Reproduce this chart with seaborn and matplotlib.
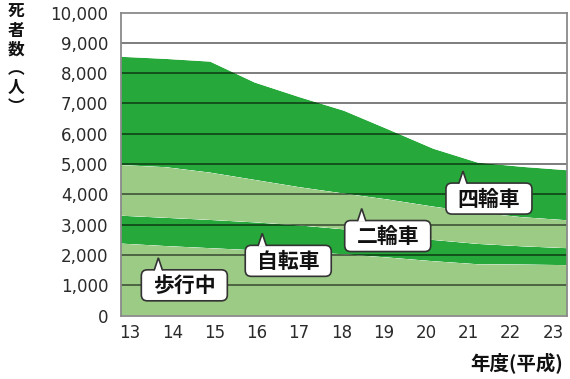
import matplotlib
matplotlib.use("Agg")
import matplotlib.pyplot as plt
import pandas as pd
import seaborn as sns
import seaborn.objects as so
from matplotlib.patches import FancyBboxPatch, Polygon
from matplotlib.lines import Line2D
from matplotlib.transforms import ScaledTranslation
from matplotlib.ticker import FuncFormatter

# Road traffic deaths by mode of travel, fiscal years Heisei 13-23
years = [13, 14, 15, 16, 17, 18, 19, 20, 21, 22, 23]
pedestrian = [2380, 2300, 2230, 2160, 2100, 2030, 1920, 1800, 1700, 1690, 1670]
bicycle = [920, 930, 930, 920, 880, 820, 760, 700, 670, 600, 560]
motorcycle = [1670, 1670, 1560, 1400, 1260, 1180, 1150, 1100, 1030, 960, 920]
car = [3570, 3570, 3660, 3210, 2970, 2730, 2310, 1910, 1650, 1660, 1650]

modes = ["歩行中", "自転車", "二輪車", "四輪車"]
series = [pedestrian, bicycle, motorcycle, car]
y_ticks = [0, 1000, 2000, 3000, 4000, 5000, 6000, 7000, 8000, 9000, 10000]
year_labels = [str(y) for y in years]

DARK = "#27a83b"
LIGHT = "#9ccb86"
palette = {"歩行中": LIGHT, "自転車": DARK, "二輪車": LIGHT, "四輪車": DARK}

# long table, bottom layer first so that the stack builds upward
df = pd.concat(
    [pd.DataFrame({"year": years, "deaths": vals, "mode": m}) for m, vals in zip(modes, series)],
    ignore_index=True,
)

sns.set_theme(style="white")
plt.rcParams["font.family"] = ["DejaVu Sans"]
CJK = ["Noto Sans CJK JP", "DejaVu Sans"]

W, H = 570, 379
fig = plt.figure(figsize=(W / 100, H / 100), dpi=100)
ax = fig.add_axes([121 / W, 1 - 315.8 / H, 446 / W, (315.8 - 12.5) / H])

(
    so.Plot(df, x="year", y="deaths", color="mode")
    .add(so.Area(alpha=1, edgewidth=0), so.Stack(), legend=False)
    .scale(color=so.Nominal(palette, order=modes))
    .on(ax)
    .plot()
)

ax.set_facecolor("white")
ax.set_xlim(13, 23)
ax.set_ylim(0, 10000)
# year labels sit on a slightly inset row so the end labels stay inside the frame
inset = [13.2 + (y - 13) * 0.9484 for y in years]
ax.set_xticks(inset, year_labels)
ax.set_yticks(y_ticks)
ax.yaxis.set_major_formatter(FuncFormatter(lambda v, _: f"{v:,.0f}"))
ax.set_xlabel("")
ax.set_ylabel("")
ax.grid(False)
ax.tick_params(axis="both", length=0, labelsize=12, labelcolor="#2a2a2a")
ax.tick_params(axis="y", pad=9)
ax.tick_params(axis="x", pad=6)

# horizontal rules drawn over the filled bands
for v in y_ticks[1:-1]:
    ax.axhline(v, color="black", alpha=0.55, lw=1.3, zorder=3)

for side in ["left", "right", "top", "bottom"]:
    ax.spines[side].set_visible(True)
    ax.spines[side].set_color("#8a8a8a")
    ax.spines[side].set_linewidth(1.3)
    ax.spines[side].set_zorder(4)


def callout(x, y, text, w=86, h=31, ptr_dx=-26, ptr_h=12, ptr_half=4):
    """White rounded label with a small pointer on its top edge (sizes in pixels)."""
    t = ScaledTranslation(x, y, ax.transData)
    box = FancyBboxPatch((-w / 2, -h / 2), w, h,
                         boxstyle="round,pad=0,rounding_size=6",
                         fc="white", ec="#333333", lw=1.2, transform=t, zorder=6)
    ax.add_patch(box)
    tri = Polygon([(ptr_dx - ptr_half, h / 2 - 1.2), (ptr_dx, h / 2 + ptr_h),
                   (ptr_dx + ptr_half, h / 2 - 1.2)],
                  closed=True, fc="white", ec="none", transform=t, zorder=7)
    ax.add_patch(tri)
    ax.add_line(Line2D([ptr_dx - ptr_half, ptr_dx, ptr_dx + ptr_half],
                       [h / 2, h / 2 + ptr_h, h / 2],
                       color="#333333", lw=1.2, transform=t, zorder=8,
                       solid_joinstyle="miter"))
    ax.text(0, -0.5, text, transform=t, ha="center", va="center",
            fontsize=15, fontweight="bold", family=CJK, color="#111111", zorder=9)


callout(14.42, 1005, "歩行中")
callout(16.75, 1812, "自転車")
callout(18.98, 2630, "二輪車")
callout(21.25, 3865, "四輪車")

# vertical axis title written top to bottom, with vertical-form brackets
fig.text(16 / W, 1 - 3 / H, "\n".join("死者数︵人︶"), ha="center", va="top",
         fontsize=12, fontweight="bold", family=CJK, color="#111111",
         linespacing=1.07, multialignment="center")

fig.text(563 / W, 1 - 363.5 / H, "年度(平成)", ha="right", va="center",
         fontsize=14, fontweight="bold", family=CJK, color="#111111")

fig.savefig("out.png", dpi=100)
